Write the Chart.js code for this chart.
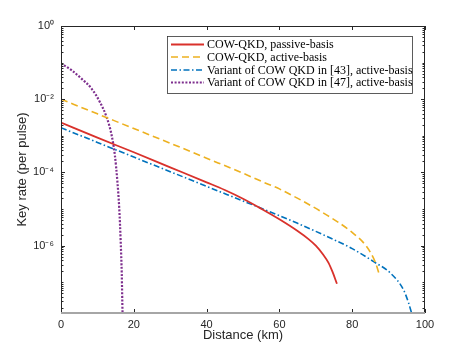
<!DOCTYPE html>
<html>
<head>
<meta charset="utf-8">
<script src="https://cdn.jsdelivr.net/npm/chart.js@4.4.0/dist/chart.umd.min.js"></script>
<style>
html, body { margin: 0; padding: 0; background: #fff; }
#wrap { width: 469px; height: 352px; }
</style>
</head>
<body>
<div id="wrap"><canvas id="key-rate-chart"></canvas></div>
<script>
// values (distance in km, key rate per pulse)
var seriesNames = [
  'COW-QKD, passive-basis',
  'COW-QKD, active-basis',
  'Variant of COW QKD in [43], active-basis',
  'Variant of COW QKD in [47], active-basis'
];
var passiveDist = [0, 10, 20, 30, 40, 45, 50, 55, 60, 65, 68, 70, 72, 73.5, 74.6, 75.8];
var passiveRate = [2.29e-3, 8.9e-4, 3.55e-4, 1.38e-4, 5.37e-5, 3.31e-5, 1.91e-5, 1.02e-5, 5.25e-6, 2.51e-6, 1.51e-6, 1.0e-6, 5.75e-7, 3.39e-7, 1.91e-7, 9.1e-8];
var activeDist = [0, 10, 20, 30, 40, 50, 55, 60, 63, 66, 72, 79.5, 84, 86.3, 87.5];
var activeRate = [1.0e-2, 3.98e-3, 1.58e-3, 6.3e-4, 2.45e-4, 9.5e-5, 5.75e-5, 3.55e-5, 2.5e-5, 1.74e-5, 7.9e-6, 2.5e-6, 9.3e-7, 3.6e-7, 1.58e-7];
var variant43Dist = [0, 10, 20, 30, 40, 50, 60, 65, 70, 75, 80, 86, 90.5, 94.1, 95.5, 96.3];
var variant43Rate = [1.66e-3, 6.6e-4, 2.63e-4, 1.05e-4, 4.17e-5, 1.66e-5, 6.6e-6, 4.07e-6, 2.45e-6, 1.45e-6, 8.3e-7, 3.6e-7, 1.78e-7, 6.2e-8, 2.7e-8, 1.45e-8];
var variant47Dist = [0, 2.9, 5.7, 8.4, 10.7, 12.5, 13.9, 14.8, 15.5, 16.0, 16.4, 16.7, 16.9, 17.0];
var variant47Rate = [9.5e-2, 6.2e-2, 3.6e-2, 1.95e-2, 8.3e-3, 3.3e-3, 1.05e-3, 2.95e-4, 5.5e-5, 1.05e-5, 1.29e-6, 1.58e-7, 1.58e-8, 1.0e-8];

var xTickValues = [0, 20, 40, 60, 80, 100];
var yTickValues = [1, 1e-2, 1e-4, 1e-6];
var yTickLabels = ['10\u2070', '10\u207B\u00B2', '10\u207B\u2074', '10\u207B\u2076'];

var colors = ['#D9312B', '#EDB120', '#0072BD', '#7E2F8E'];
var dashes = [[], [7, 4], [6, 2.5, 1.5, 2.5], [2, 1.6]];
var widths = [1.8, 1.6, 1.6, 2.2];

function toPoints(xs, ys) {
  return xs.map(function (x, i) { return { x: x, y: ys[i] }; });
}

var allDist = [passiveDist, activeDist, variant43Dist, variant47Dist];
var allRate = [passiveRate, activeRate, variant43Rate, variant47Rate];

var datasets = seriesNames.map(function (name, i) {
  return {
    label: name,
    data: toPoints(allDist[i], allRate[i]),
    borderColor: colors[i],
    backgroundColor: colors[i],
    borderDash: dashes[i],
    borderWidth: widths[i],
    pointRadius: 0,
    fill: false,
    cubicInterpolationMode: 'monotone'
  };
});

var axisColor = '#262626';

// MATLAB-like box, inward ticks and legend
var matlabAxes = {
  id: 'matlabAxes',
  afterDraw: function (chart) {
    var ctx = chart.ctx, a = chart.chartArea;
    var xs = chart.scales.x, ys = chart.scales.y;
    ctx.save();
    ctx.strokeStyle = axisColor;
    ctx.lineWidth = 1;
    ctx.beginPath();
    ctx.moveTo(a.left + 0.5, a.bottom); ctx.lineTo(a.left + 0.5, a.top + 0.5);
    ctx.lineTo(a.right - 0.5, a.top + 0.5); ctx.lineTo(a.right - 0.5, a.bottom);
    ctx.stroke();
    // x ticks
    xTickValues.forEach(function (v) {
      var px = Math.round(xs.getPixelForValue(v)) + 0.5;
      ctx.beginPath();
      ctx.moveTo(px, a.bottom); ctx.lineTo(px, a.bottom - 4);
      ctx.moveTo(px, a.top); ctx.lineTo(px, a.top + 4);
      ctx.stroke();
    });
    // y ticks, major on even decades, minor elsewhere
    for (var k = -8; k <= 0; k++) {
      for (var m = 1; m <= 9; m++) {
        var v = m * Math.pow(10, k);
        if (v < ys.min || v > ys.max) continue;
        var major = (m === 1 && k % 2 === 0);
        var len = major ? 4 : 2.5;
        var py = Math.round(ys.getPixelForValue(v)) + 0.5;
        ctx.beginPath();
        ctx.moveTo(a.left, py); ctx.lineTo(a.left + len, py);
        ctx.moveTo(a.right, py); ctx.lineTo(a.right - len, py);
        ctx.stroke();
      }
    }
    // bottom axis line
    ctx.strokeStyle = '#a6a6a6';
    ctx.lineWidth = 2;
    ctx.beginPath();
    ctx.moveTo(a.left, a.bottom); ctx.lineTo(a.right, a.bottom);
    ctx.stroke();

    // legend
    var bx = 167.5, by = 36.5, bw = 245, bh = 57;
    ctx.fillStyle = '#ffffff';
    ctx.fillRect(bx, by, bw, bh);
    ctx.strokeStyle = '#333333';
    ctx.lineWidth = 0.8;
    ctx.setLineDash([]);
    ctx.strokeRect(bx, by, bw, bh);
    var rowY = [44.5, 57, 70, 82.5];
    ctx.font = '12px "Liberation Serif", serif';
    ctx.textBaseline = 'middle';
    ctx.textAlign = 'left';
    seriesNames.forEach(function (name, i) {
      ctx.strokeStyle = colors[i];
      ctx.lineWidth = widths[i];
      ctx.setLineDash(dashes[i]);
      ctx.beginPath();
      ctx.moveTo(171, rowY[i]); ctx.lineTo(204, rowY[i]);
      ctx.stroke();
      ctx.setLineDash([]);
      ctx.fillStyle = '#000000';
      ctx.fillText(name, 207, rowY[i] + 0.5);
    });
    ctx.restore();
  }
};

var keyRateChart = new Chart(document.getElementById('key-rate-chart'), {
  type: 'line',
  data: { datasets: datasets },
  options: {
    responsive: true, maintainAspectRatio: false, animation: false,
    layout: { padding: { top: 26, right: 44, left: 0, bottom: 0 } },
    plugins: { legend: { display: false }, tooltip: { enabled: false } },
    scales: {
      x: {
        type: 'linear', min: 0, max: 100,
        grid: { display: false, drawTicks: false },
        border: { display: false },
        ticks: { stepSize: 20, padding: 5, color: axisColor, maxRotation: 0,
                 font: { family: '"Liberation Sans", Arial, sans-serif', size: 11 } },
        title: { display: true, text: 'Distance (km)', color: axisColor,
                 padding: { top: 0, bottom: 9 },
                 font: { family: '"Liberation Sans", Arial, sans-serif', size: 13 } },
        afterFit: function (s) { s.height = 39; }
      },
      y: {
        type: 'logarithmic', min: 1.445e-8, max: 1,
        grid: { display: false, drawTicks: false },
        border: { display: false },
        afterBuildTicks: function (s) {
          s.ticks = yTickValues.map(function (v) { return { value: v }; });
        },
        ticks: { padding: 7, color: axisColor,
                 font: { family: '"Liberation Sans", Arial, sans-serif', size: 11 },
                 callback: function (value) {
                   var i = yTickValues.indexOf(value);
                   return i >= 0 ? yTickLabels[i] : '';
                 } },
        title: { display: true, text: 'Key rate (per pulse)', color: axisColor,
                 padding: { top: 15, bottom: 0 },
                 font: { family: '"Liberation Sans", Arial, sans-serif', size: 13 } },
        afterFit: function (s) { s.width = 61; }
      }
    }
  },
  plugins: [matlabAxes]
});
</script>
</body>
</html>
